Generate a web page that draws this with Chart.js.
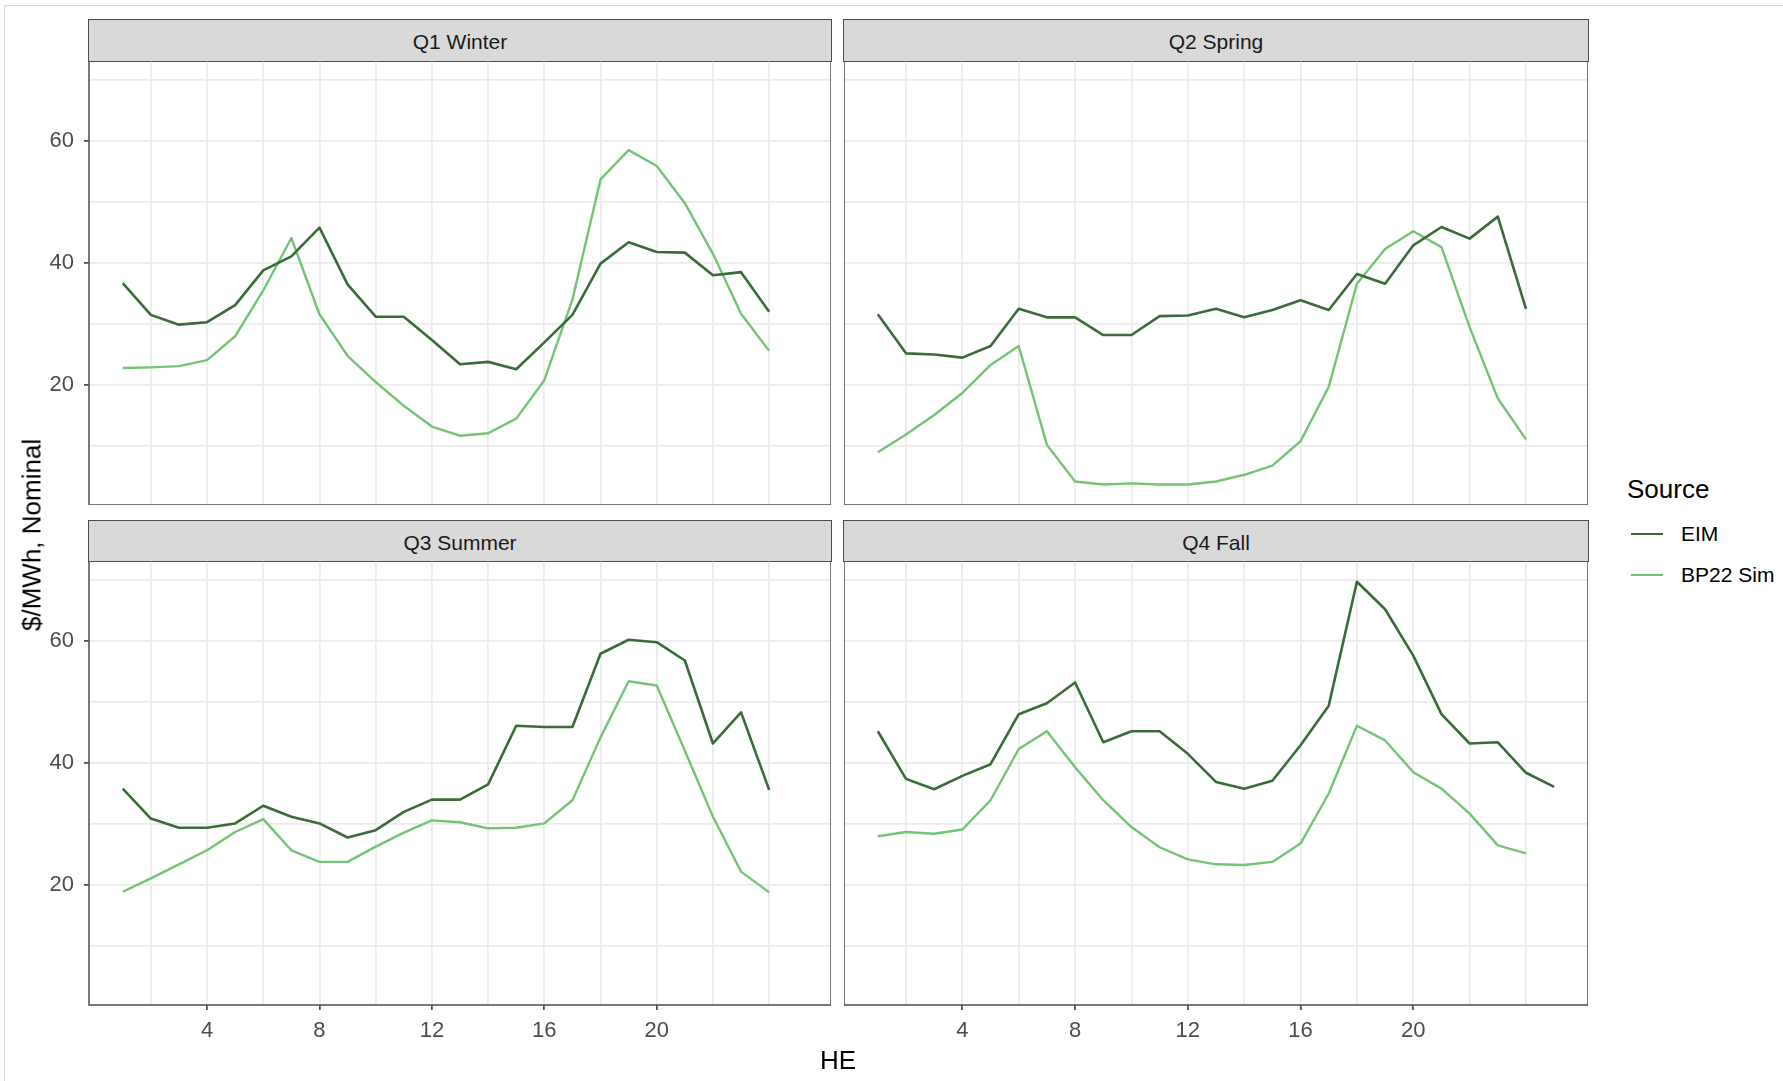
<!DOCTYPE html>
<html>
<head>
<meta charset="utf-8">
<script src="https://cdn.jsdelivr.net/npm/chart.js@4.4.1/dist/chart.umd.min.js"></script>
<style>
  body { margin: 0; background: #fff; width: 1783px; height: 1081px; overflow: hidden; position: relative;
         font-family: "Liberation Sans", Arial, sans-serif; }
  .frame { position: absolute; left: 4px; top: 5px; width: 1800px; height: 1100px;
           border-left: 1.5px solid #d4d4d4; border-top: 1.5px solid #d4d4d4; }
  .strip { position: absolute; box-sizing: border-box; background: #d9d9d9; border: 1.5px solid #4d4d4d;
           color: #1a1a1a; font-size: 21px; display: flex; align-items: center; justify-content: center;
           padding-top: 3px; }
  canvas { position: absolute; }
  .title { position: absolute; color: #000; font-size: 26px; white-space: nowrap; transform: translate(-50%, -50%); }
  .ytitle { transform: translate(-50%, -50%) rotate(-90deg); }
  .legend-title { position: absolute; left: 1627px; top: 489px; transform: translateY(-50%); font-size: 26px; color: #000; }
  .legend-item { position: absolute; left: 1631px; height: 30px; transform: translateY(-50%); display: flex; align-items: center; }
  .legend-item .key { width: 32px; height: 2.6px; margin-right: 18px; }
  .legend-item span { font-size: 21px; color: #000; }
</style>
</head>
<body>
<div class="frame"></div>
<div id="panels"></div>
<div class="title ytitle" style="left:32px; top:535px;">$/MWh, Nominal</div>
<div class="title" style="left:838px; top:1060px;">HE</div>
<div class="legend-title">Source</div>
<div id="legend"></div>

<script>
// hour ending (Q4 EIM has a 25th hour)
const hours = [1, 2, 3, 4, 5, 6, 7, 8, 9, 10, 11, 12, 13, 14, 15, 16, 17, 18, 19, 20, 21, 22, 23, 24, 25];
const quarters = ['Q1 Winter', 'Q2 Spring', 'Q3 Summer', 'Q4 Fall'];
const sources = ['EIM', 'BP22 Sim'];

const eimQ1 = [36.7, 31.5, 29.9, 30.3, 33.1, 38.8, 41.1, 45.8, 36.5, 31.2, 31.2, 27.4, 23.4, 23.8, 22.6, 27.0, 31.5, 39.9, 43.4, 41.8, 41.7, 38.0, 38.5, 32.0];
const simQ1 = [22.8, 22.9, 23.1, 24.1, 28.0, 35.5, 44.1, 31.6, 24.8, 20.5, 16.6, 13.2, 11.7, 12.1, 14.5, 20.8, 34.0, 53.7, 58.5, 55.9, 49.8, 41.5, 31.7, 25.6];

const eimQ2 = [31.6, 25.2, 25.0, 24.5, 26.4, 32.5, 31.1, 31.1, 28.2, 28.2, 31.3, 31.4, 32.5, 31.1, 32.3, 33.9, 32.3, 38.2, 36.6, 42.9, 45.9, 44.0, 47.6, 32.5];
const simQ2 = [9.0, 11.9, 15.1, 18.7, 23.3, 26.4, 10.2, 4.2, 3.7, 3.9, 3.7, 3.7, 4.2, 5.3, 6.8, 10.8, 19.7, 36.6, 42.3, 45.2, 42.6, 29.5, 17.8, 11.1];

const eimQ3 = [35.8, 30.9, 29.4, 29.4, 30.1, 33.0, 31.2, 30.1, 27.8, 29.0, 32.0, 34.0, 34.0, 36.5, 46.1, 45.9, 45.9, 57.9, 60.2, 59.8, 56.8, 43.2, 48.3, 35.6];
const simQ3 = [18.9, 21.1, 23.4, 25.7, 28.7, 30.8, 25.7, 23.8, 23.8, 26.3, 28.6, 30.6, 30.3, 29.3, 29.4, 30.1, 33.9, 44.2, 53.4, 52.7, 42.0, 31.2, 22.2, 18.8];

const eimQ4 = [45.2, 37.4, 35.7, 37.9, 39.8, 48.0, 49.8, 53.2, 43.4, 45.2, 45.2, 41.5, 36.9, 35.8, 37.1, 42.9, 49.4, 69.7, 65.2, 57.6, 48.0, 43.2, 43.4, 38.4, 36.1];
const simQ4 = [28.0, 28.7, 28.4, 29.1, 33.9, 42.3, 45.2, 39.3, 33.9, 29.5, 26.2, 24.2, 23.4, 23.3, 23.8, 26.8, 35.0, 46.1, 43.7, 38.5, 35.8, 31.7, 26.5, 25.2];

const xGridTicks = [2, 4, 6, 8, 10, 12, 14, 16, 18, 20, 22, 24];
const xTickLabels = [4, 8, 12, 16, 20];
const yGridTicks = [10, 20, 30, 40, 50, 60, 70];
const yTickLabels = [20, 40, 60];

const eimSeries = [eimQ1, eimQ2, eimQ3, eimQ4];
const simSeries = [simQ1, simQ2, simQ3, simQ4];

// layout / style
const colors = { 'EIM': '#3a6b39', 'BP22 Sim': '#74c476' };
const boxes = [
  { left: 89, right: 831, top: 61, bottom: 505, stripTop: 19, showY: true, showX: false },
  { left: 844, right: 1588, top: 61, bottom: 505, stripTop: 19, showY: false, showX: false },
  { left: 89, right: 831, top: 561, bottom: 1005, stripTop: 520, showY: true, showX: true },
  { left: 844, right: 1588, top: 561, bottom: 1005, stripTop: 520, showY: false, showX: true }
];
const fontFamily = '"Liberation Sans", Arial, sans-serif';

const panelBorder = {
  id: 'panelBorder',
  afterDatasetsDraw(chart) {
    const { ctx, chartArea: a } = chart;
    ctx.save();
    ctx.strokeStyle = '#4d4d4d';
    ctx.lineWidth = 1.5;
    ctx.strokeRect(a.left, a.top, a.right - a.left, a.bottom - a.top);
    ctx.restore();
  }
};

function toPoints(values) {
  return values.map((v, i) => ({ x: hours[i], y: v }));
}

const panelsDiv = document.getElementById('panels');

quarters.forEach((q, i) => {
  const b = boxes[i];

  const strip = document.createElement('div');
  strip.className = 'strip';
  strip.style.left = (b.left - 0.75) + 'px';
  strip.style.top = b.stripTop + 'px';
  strip.style.width = (b.right - b.left + 1.5) + 'px';
  strip.style.height = (b.top - b.stripTop + 1) + 'px';
  strip.textContent = q;
  panelsDiv.appendChild(strip);

  const canvasLeft = b.showY ? 0 : b.left;
  const yAxisWidth = b.left - canvasLeft;
  const xAxisHeight = b.showX ? 60 : 0;

  const canvas = document.createElement('canvas');
  canvas.width = b.right - canvasLeft;
  canvas.height = b.bottom - b.top + xAxisHeight;
  canvas.style.left = canvasLeft + 'px';
  canvas.style.top = b.top + 'px';
  panelsDiv.appendChild(canvas);

  new Chart(canvas.getContext('2d'), {
    type: 'line',
    data: {
      datasets: [
        {
          label: sources[0],
          data: toPoints(eimSeries[i]),
          borderColor: colors['EIM'],
          borderWidth: 2.6,
          pointRadius: 0,
          tension: 0,
          borderJoinStyle: 'round'
        },
        {
          label: sources[1],
          data: toPoints(simSeries[i]),
          borderColor: colors['BP22 Sim'],
          borderWidth: 2.4,
          pointRadius: 0,
          tension: 0,
          borderJoinStyle: 'round'
        }
      ]
    },
    options: {
      responsive: false,
      animation: false,
      devicePixelRatio: 1,
      layout: { padding: 0 },
      plugins: {
        legend: { display: false },
        tooltip: { enabled: false }
      },
      scales: {
        x: {
          type: 'linear',
          min: -0.2,
          max: 26.2,
          border: { display: false },
          grid: {
            color: '#ebebeb',
            lineWidth: 1.8,
            drawTicks: b.showX,
            tickLength: 5,
            tickWidth: 1.5,
            tickColor: (ctx) => xTickLabels.includes(ctx.tick && ctx.tick.value) ? '#333333' : 'rgba(0,0,0,0)'
          },
          ticks: {
            display: b.showX,
            autoSkip: false,
            maxRotation: 0,
            padding: 8,
            color: '#4d4d4d',
            font: { family: fontFamily, size: 22 },
            callback: (v) => xTickLabels.includes(v) ? String(v) : ''
          },
          afterBuildTicks: (scale) => { scale.ticks = xGridTicks.map(v => ({ value: v })); },
          afterFit: (scale) => {
            scale.height = xAxisHeight;
            scale.paddingLeft = 0; scale.paddingRight = 0;
            scale.paddingTop = 0; scale.paddingBottom = 0;
          }
        },
        y: {
          type: 'linear',
          min: 0.35,
          max: 73.1,
          border: { display: false },
          grid: {
            color: '#ebebeb',
            lineWidth: 1.8,
            drawTicks: b.showY,
            tickLength: 5,
            tickWidth: 1.5,
            tickColor: (ctx) => yTickLabels.includes(ctx.tick && ctx.tick.value) ? '#333333' : 'rgba(0,0,0,0)'
          },
          ticks: {
            display: b.showY,
            autoSkip: false,
            padding: 10,
            color: '#4d4d4d',
            font: { family: fontFamily, size: 22 },
            callback: (v) => yTickLabels.includes(v) ? String(v) : ''
          },
          afterBuildTicks: (scale) => { scale.ticks = yGridTicks.map(v => ({ value: v })); },
          afterFit: (scale) => {
            scale.width = yAxisWidth;
            scale.paddingLeft = 0; scale.paddingRight = 0;
            scale.paddingTop = 0; scale.paddingBottom = 0;
          }
        }
      }
    },
    plugins: [panelBorder]
  });
});

// legend
const legendDiv = document.getElementById('legend');
const legendRows = [534, 575];
sources.forEach((s, i) => {
  const item = document.createElement('div');
  item.className = 'legend-item';
  item.style.top = legendRows[i] + 'px';
  item.innerHTML = '<div class="key" style="background:' + colors[s] + '"></div><span>' + s + '</span>';
  legendDiv.appendChild(item);
});
</script>
</body>
</html>
